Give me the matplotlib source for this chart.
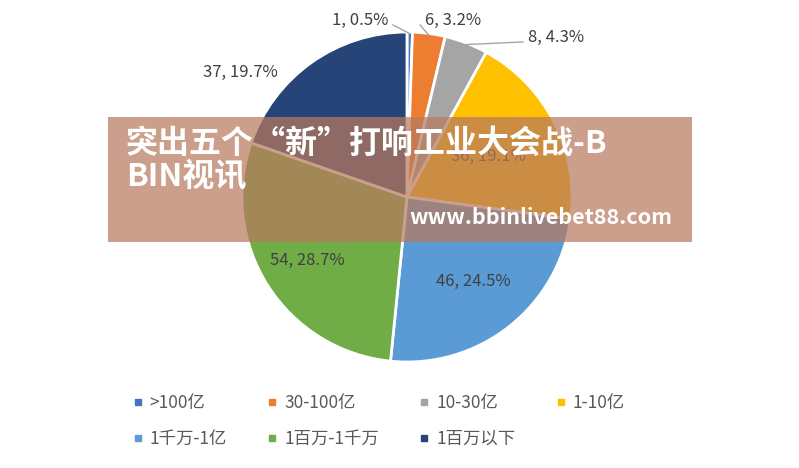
import numpy as np
import matplotlib
matplotlib.use("Agg")
import matplotlib.pyplot as plt
from matplotlib.lines import Line2D
from matplotlib.patches import Rectangle

plt.rcParams['font.family'] = ['Noto Sans CJK SC', 'DejaVu Sans']

categories = [">100亿", "30-100亿", "10-30亿", "1-10亿", "1千万-1亿", "1百万-1千万", "1百万以下"]
counts = [1, 6, 8, 36, 46, 54, 37]
colors = ["#4472C4", "#ED7D31", "#A5A5A5", "#FFC000", "#5B9BD5", "#70AD47", "#264478"]

W, H = 799, 468
cx, cy, R = 407, 197, 165
# label anchor points in pixels (None = inside slice)
label_px = [(388, 20, "right"), (425, 20, "left"), (528, 37, "left"), None, None, None, None]
inside_r = [0, 0, 0, 0.55, 0.65, 0.72, 0]

fig = plt.figure(figsize=(7.99, 4.68), dpi=100)
ax = fig.add_axes([(cx - R) / W, (H - cy - R) / H, 2 * R / W, 2 * R / H])
wedges, _ = ax.pie(counts, colors=colors, startangle=90, counterclock=False,
                   wedgeprops=dict(edgecolor="white", linewidth=2))
ax.set_xlim(-1, 1)
ax.set_ylim(-1, 1)
ax.axis("off")

total = sum(counts)
for i, (w, c) in enumerate(zip(wedges, counts)):
    ang = np.deg2rad((w.theta1 + w.theta2) / 2)
    txt = f"{c}, {c / total * 100:.1f}%"
    if label_px[i] is not None:
        px, py, ha = label_px[i]
        x, y = (px - cx) / R, (cy - py) / R
        ex = x + (0.03 if ha == "right" else -0.03)
        ax.plot([0.99 * np.cos(ang), ex], [0.99 * np.sin(ang), y - 0.03],
                color="#A6A6A6", lw=1, clip_on=False)
        ax.text(x, y, txt, ha=ha, va="center", fontsize=12, color="#404040")
    elif i == 6:
        ax.text((240 - cx) / R, (cy - 72) / R, txt, ha="center", va="center", fontsize=12, color="#404040")
    else:
        r = inside_r[i]
        ax.text(r * np.cos(ang), r * np.sin(ang), txt, ha="center", va="center", fontsize=12, color="#404040")

# legend fills column-wise; reorder so it reads row by row
order = [0, 4, 1, 5, 2, 6, 3]
handles = [Line2D([], [], marker="s", ls="", color=colors[k], markersize=5) for k in order]
labels = [categories[k] for k in order]
fig.legend(handles, labels, ncol=4, loc="upper left", bbox_to_anchor=(115 / W, 1 - 378 / H),
           frameon=False, fontsize=12.5, handletextpad=0.3, columnspacing=2.2,
           labelspacing=1.05, handlelength=0.8, labelcolor="#595959")

# overlay banner
fig.patches.append(Rectangle((108 / W, 1 - 242 / H), 584 / W, 125 / H, transform=fig.transFigure,
                             facecolor="#B87A5E", alpha=0.72, edgecolor="none", zorder=5))
fig.text(126 / W, 1 - 128 / H, "突出五个“新”打响工业大会战-B\nBIN视讯", ha="left", va="top",
         fontsize=23, fontweight="bold", color="white", linespacing=1.0, zorder=6)
fig.text(672 / W, 1 - 217 / H, "www.bbinlivebet88.com", ha="right", va="center",
         fontsize=15.5, fontweight="bold", color="white", zorder=6)

fig.savefig("out.png", dpi=100)
